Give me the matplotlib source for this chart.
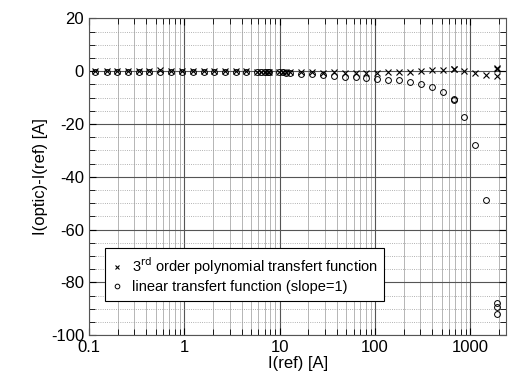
import matplotlib.pyplot as plt
from matplotlib.ticker import FixedLocator, NullFormatter, LogLocator
import numpy as np

plt.rcParams['font.family'] = ['Liberation Sans', 'DejaVu Sans']
plt.rcParams['axes.unicode_minus'] = False

# measured currents I(ref) [A]
i_ref = [0.117, 0.154, 0.197, 0.255, 0.333, 0.43, 0.557, 0.726, 0.946, 1.23,
         1.6, 2.06, 2.67, 3.45, 4.46, 5.86, 6.4, 7.0, 7.5, 7.8, 9.9, 10.8, 11.8, 13.0,
         16.9, 22, 28.5, 37, 48, 63, 81, 106, 137, 178, 232, 303, 395, 515,
         671, 680, 870, 1120, 1466, 1900, 1910, 1920]

# 3rd order polynomial transfer function error
err_poly = [0.2, 0.2, 0.2, 0.2, 0.2, 0.1, 0.3, 0.2, 0.2, 0.2,
            0.1, 0.1, 0.1, 0.0, 0.0, -0.2, -0.4, -0.3, -0.5, -0.2, -0.3, -0.2, -0.3, -0.4,
            -0.4, -0.5, -0.6, -0.5, -0.6, -0.8, -0.6, -0.6, -0.4, -0.3, -0.2, 0.0, 0.3, 0.3,
            0.9, 1.0, 0.0, -0.6, -1.3, 1.3, 0.8, -1.8]

# linear transfer function (slope=1) error
err_lin = [-0.2, -0.2, -0.2, -0.2, -0.2, -0.2, -0.2, -0.2, -0.2, -0.2,
           -0.2, -0.2, -0.2, -0.3, -0.3, -0.4, -0.4, -0.5, -0.5, -0.4, -0.5, -0.5, -0.6, -0.7,
           -0.9, -1.1, -1.5, -1.7, -2.1, -2.2, -2.5, -2.8, -3.2, -3.4, -4.0, -4.7, -6.1, -7.8,
           -10.5, -11.1, -17.2, -27.8, -48.8, -87.8, -89.5, -91.9]

fig = plt.figure(figsize=(5.08, 3.83), dpi=100)
ax = fig.add_axes([0.175, 0.125, 0.822, 0.827])

ax.plot(i_ref, err_poly, linestyle='none', marker='x', color='black',
        markersize=4.2, markeredgewidth=0.8,
        label='3$^{\\rm rd}$ order polynomial transfert function')
ax.plot(i_ref, err_lin, linestyle='none', marker='o', markerfacecolor='none',
        markeredgecolor='black', markersize=4.2, markeredgewidth=0.7,
        label='linear transfert function (slope=1)')

ax.set_xscale('log')
ax.set_xlim(0.1, 2400)
ax.set_ylim(-100, 20)
ax.set_xticks([0.1, 1, 10, 100, 1000])
ax.set_xticklabels(['0.1', '1', '10', '100', '1000'])
ax.xaxis.set_minor_locator(LogLocator(base=10, subs=np.arange(2, 10)))
ax.xaxis.set_minor_formatter(NullFormatter())
ax.set_yticks(np.arange(-100, 21, 20))
ax.yaxis.set_minor_locator(FixedLocator(np.arange(-100, 21, 5)))

ax.grid(True, which='major', color='#555555', linewidth=0.8)
ax.grid(True, which='minor', axis='x', color='#aaaaaa', linewidth=0.6)
ax.grid(True, which='minor', axis='y', color='#999999', linewidth=0.6, linestyle=':')
ax.set_axisbelow(True)

ax.tick_params(which='both', direction='in', top=True, right=True, labelsize=12)
ax.tick_params(which='major', length=5, width=0.8)
ax.tick_params(which='minor', length=4, width=0.6)
for s in ax.spines.values():
    s.set_color('#555555')
    s.set_linewidth(0.8)

ax.set_xlabel('I(ref) [A]', fontsize=12, labelpad=1)
ax.set_ylabel('I(optic)-I(ref) [A]', fontsize=12, labelpad=2)

leg = ax.legend(loc='lower left', bbox_to_anchor=(0.02, 0.085), fontsize=10.5,
                frameon=True, fancybox=False, edgecolor='black', framealpha=1,
                handlelength=0.8, handletextpad=0.6, borderpad=0.45, labelspacing=0.25,
                markerscale=0.8)
leg.get_frame().set_linewidth(0.8)

fig.savefig('out.png', dpi=100)
